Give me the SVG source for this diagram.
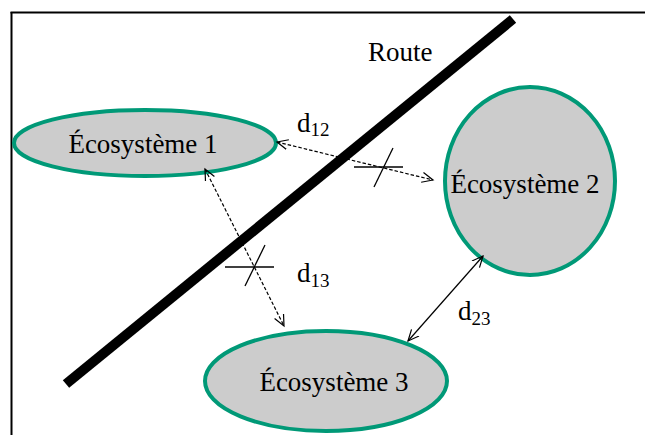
<svg xmlns="http://www.w3.org/2000/svg" width="645" height="435" viewBox="0 0 645 435">
<style>
.eco{fill:#cccccc;stroke:#009977;stroke-width:4}
.lbl{font-family:'Liberation Serif',Tinos,'Times New Roman','DejaVu Serif',serif;font-size:27px;fill:#000}
.sub{font-size:19px}
.dash{stroke:#000;stroke-width:1.2;stroke-dasharray:3.5,2;fill:none}
.solid{stroke:#000;stroke-width:1.2;fill:none}
.cross{stroke:#000;stroke-width:1.3}
</style>
<defs>
<marker id="ah" markerWidth="14" markerHeight="12" refX="11" refY="5" orient="auto-start-reverse" markerUnits="userSpaceOnUse" viewBox="0 0 14 10">
<path d="M0,0 L11,5 L0,10" fill="none" stroke="#000" stroke-width="1.2"/>
</marker>
</defs>
<rect width="645" height="435" fill="#fff"/>
<g id="frame">
<line x1="11.5" y1="12" x2="11.5" y2="435" stroke="#000" stroke-width="2"/>
<line x1="10.5" y1="12.5" x2="645" y2="12.5" stroke="#000" stroke-width="2.2"/>
</g>
<g id="road">
<line x1="66" y1="384" x2="513" y2="19" stroke="#000" stroke-width="10"/>
<text class="lbl" x="368" y="61" font-family="Liberation Serif, serif">Route</text>
</g>
<g id="eco1">
<ellipse class="eco" cx="145" cy="143" rx="131" ry="33"/>
<text class="lbl" x="143" y="153" text-anchor="middle" font-family="Liberation Serif, serif">Écosystème 1</text>
</g>
<g id="eco2">
<ellipse class="eco" cx="530" cy="181" rx="85" ry="94"/>
<text class="lbl" x="525" y="193" text-anchor="middle" font-family="Liberation Serif, serif">Écosystème 2</text>
</g>
<g id="eco3">
<ellipse class="eco" cx="326" cy="381" rx="121" ry="50"/>
<text class="lbl" x="334" y="391" text-anchor="middle" font-family="Liberation Serif, serif">Écosystème 3</text>
</g>
<g id="connectors">
<line class="dash" x1="277" y1="142" x2="433" y2="180" marker-start="url(#ah)" marker-end="url(#ah)"/>
<line class="cross" x1="354" y1="167" x2="403" y2="167"/>
<line class="cross" x1="393" y1="148" x2="374" y2="187"/>
<line class="dash" x1="205" y1="169" x2="284" y2="326" marker-start="url(#ah)" marker-end="url(#ah)"/>
<line class="cross" x1="225" y1="267" x2="274" y2="267"/>
<line class="cross" x1="265" y1="245" x2="245" y2="286"/>
<line class="solid" x1="408" y1="341" x2="483" y2="256" marker-start="url(#ah)" marker-end="url(#ah)"/>
</g>
<g id="labels">
<text class="lbl" x="297" y="132">d<tspan class="sub" dy="4">12</tspan></text>
<text class="lbl" x="297" y="282">d<tspan class="sub" dy="5">13</tspan></text>
<text class="lbl" x="458" y="320">d<tspan class="sub" dy="5">23</tspan></text>
</g>
</svg>
